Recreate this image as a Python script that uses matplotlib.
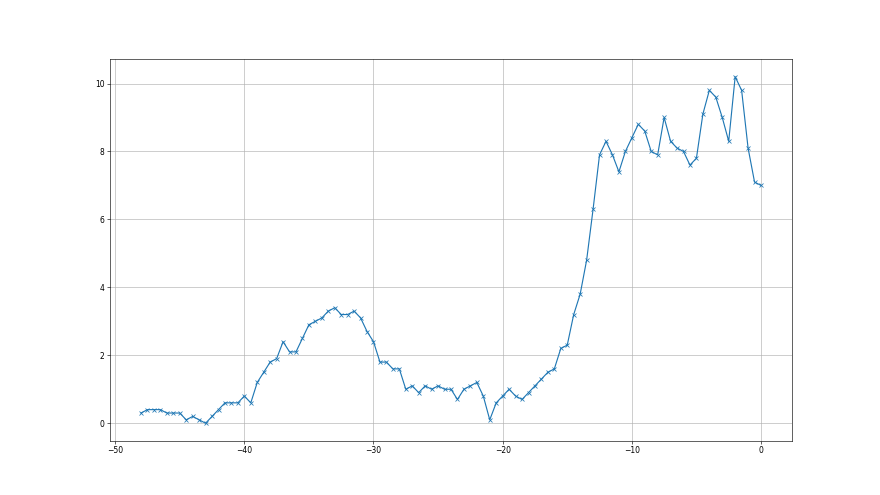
import numpy as np
import matplotlib
matplotlib.use("Agg")
import matplotlib.pyplot as plt

# values, one sample every 0.5 from -48 to 0
x_start = -48
x_step = 0.5
values = [
    0.3, 0.4, 0.4, 0.4, 0.3, 0.3, 0.3, 0.1, 0.2, 0.1,
    0.0, 0.2, 0.4, 0.6, 0.6, 0.6, 0.8, 0.6, 1.2, 1.5,
    1.8, 1.9, 2.4, 2.1, 2.1, 2.5, 2.9, 3.0, 3.1, 3.3,
    3.4, 3.2, 3.2, 3.3, 3.1, 2.7, 2.4, 1.8, 1.8, 1.6,
    1.6, 1.0, 1.1, 0.9, 1.1, 1.0, 1.1, 1.0, 1.0, 0.7,
    1.0, 1.1, 1.2, 0.8, 0.1, 0.6, 0.8, 1.0, 0.8, 0.7,
    0.9, 1.1, 1.3, 1.5, 1.6, 2.2, 2.3, 3.2, 3.8, 4.8,
    6.3, 7.9, 8.3, 7.9, 7.4, 8.0, 8.4, 8.8, 8.6, 8.0,
    7.9, 9.0, 8.3, 8.1, 8.0, 7.6, 7.8, 9.1, 9.8, 9.6,
    9.0, 8.3, 10.2, 9.8, 8.1, 7.1, 7.0,
]
xs = x_start + x_step * np.arange(len(values))

fig = plt.figure(figsize=(16, 9), dpi=55)
ax = fig.add_subplot(111)
ax.plot(xs, values, marker="x")
ax.grid(True)

fig.savefig("out.png", dpi=55)
